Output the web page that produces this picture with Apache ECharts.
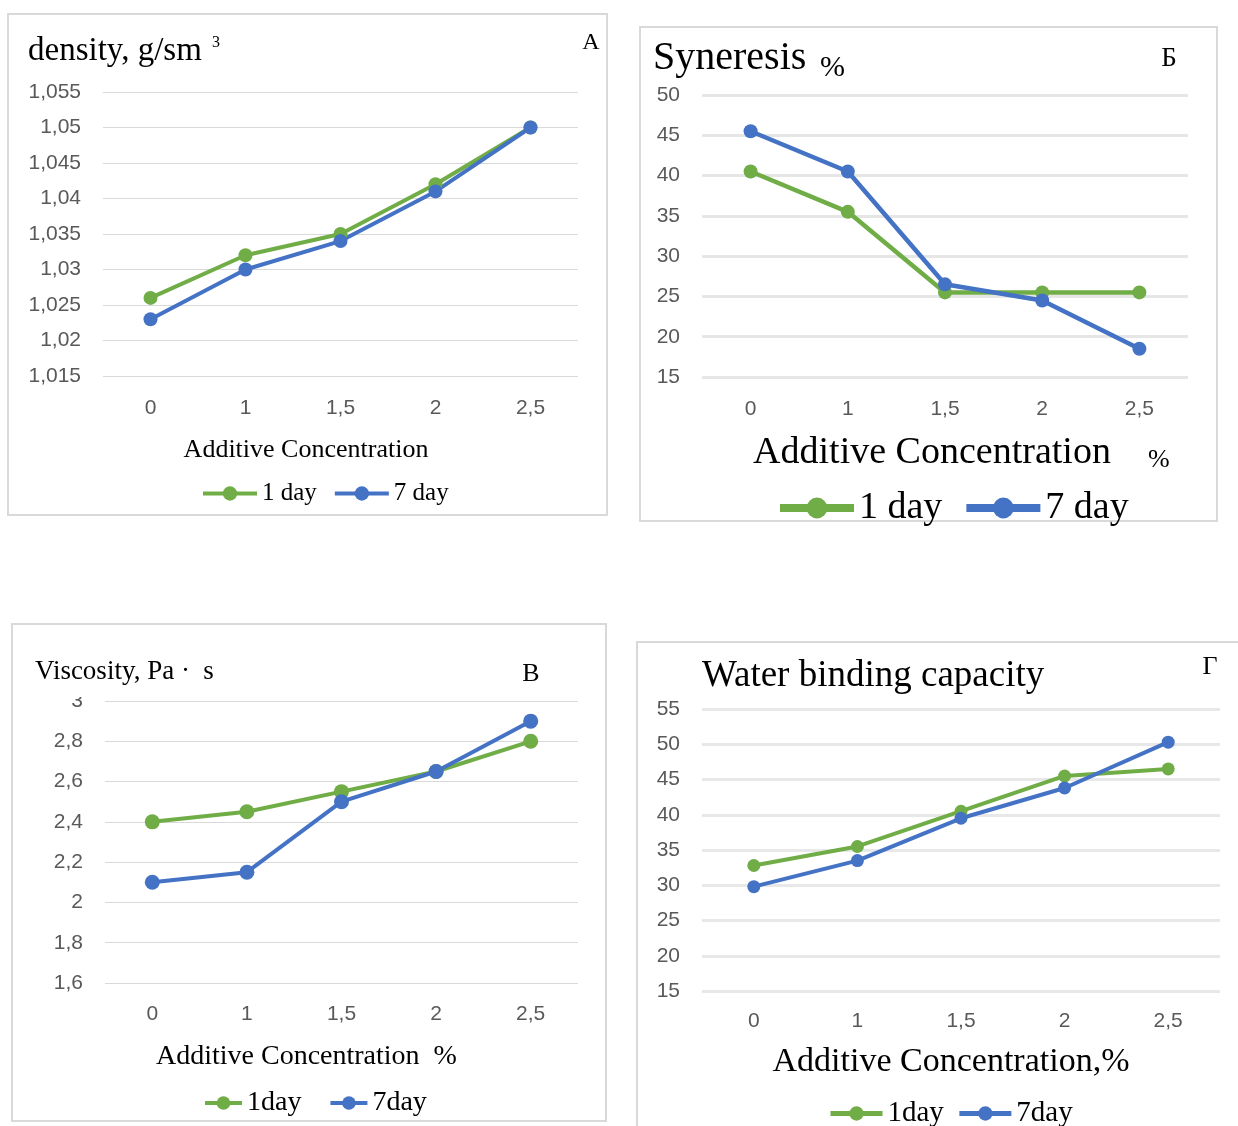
<!DOCTYPE html>
<html>
<head>
<meta charset="utf-8">
<script src="https://cdn.jsdelivr.net/npm/echarts@6/dist/echarts.min.js"></script>
<style>
  html, body { margin: 0; padding: 0; background: #ffffff; }
  #chart { width: 1238px; height: 1126px; }
</style>
</head>
<body>
<div id="chart"></div>
<script>
// Additive concentration, % (shared category axis of all four panels)
const concentrations = ['0', '1', '1,5', '2', '2,5'];

// A - density, g/sm3
const density1Day = [1.026, 1.032, 1.035, 1.042, 1.050];
const density7Day = [1.023, 1.030, 1.034, 1.041, 1.050];

// Б - syneresis, %
const syneresis1Day = [40.5, 35.5, 25.5, 25.5, 25.5];
const syneresis7Day = [45.5, 40.5, 26.5, 24.5, 18.5];

// В - viscosity, Pa·s
const viscosity1Day = [2.40, 2.45, 2.55, 2.65, 2.80];
const viscosity7Day = [2.10, 2.15, 2.50, 2.65, 2.90];

// Г - water binding capacity, %
const water1Day = [32.8, 35.5, 40.5, 45.5, 46.5];
const water7Day = [29.8, 33.5, 39.5, 43.8, 50.3];

const GREEN = '#70ad47';
const BLUE = '#4472c4';
const SERIF = '"Liberation Serif", "Times New Roman", serif';
const SANS = '"Liberation Sans", Arial, sans-serif';
const TICK_GRAY = '#595959';

const commaFmt = (d) => (v) => String(parseFloat(v.toFixed(d))).replace('.', ',');

function xAxisFor(gridIndex, margin) {
  return {
    type: 'category', gridIndex, data: concentrations,
    axisLine: { show: false }, axisTick: { show: false },
    axisLabel: { margin, color: TICK_GRAY, fontFamily: SANS, fontSize: 21 }
  };
}
function yAxisFor(gridIndex, min, max, interval, decimals, gridWidth, gridColor) {
  return {
    type: 'value', gridIndex, min, max, interval,
    axisLine: { show: false }, axisTick: { show: false },
    axisLabel: { margin: 22, color: TICK_GRAY, fontFamily: SANS, fontSize: 21, formatter: commaFmt(decimals) },
    splitLine: { lineStyle: { color: gridColor, width: gridWidth } }
  };
}
function lineSeries(name, idx, data, color, width, size) {
  return {
    type: 'line', name, xAxisIndex: idx, yAxisIndex: idx, data,
    symbol: 'circle', symbolSize: size,
    lineStyle: { color, width }, itemStyle: { color },
    emphasis: { disabled: true }, animation: false
  };
}
function legendFor(names, left, top, itemWidth, itemHeight, gap, lineWidth, fontSize) {
  return {
    data: names, left, top, orient: 'horizontal', padding: 0,
    itemWidth, itemHeight, itemGap: gap,
    lineStyle: { width: lineWidth },
    textStyle: { fontFamily: SERIF, fontSize, color: '#000' },
    selectedMode: false
  };
}
function txt(text, x, y, size, align, color) {
  return {
    type: 'text', x, y, z: 50,
    style: {
      text, font: size + 'px ' + SERIF, fill: color || '#000',
      align: align || 'left', textAlign: align || 'left',
      verticalAlign: 'middle', textVerticalAlign: 'middle'
    }
  };
}
function frame(x, y, w, h) {
  return {
    type: 'rect', z: 1, shape: { x, y, width: w, height: h },
    style: { fill: 'none', stroke: '#d9d9d9', lineWidth: 2 }
  };
}

const chart = echarts.init(document.getElementById('chart'), null, { renderer: 'canvas' });

chart.setOption({
  backgroundColor: '#ffffff',
  animation: false,
  grid: [
    { left: 103, top: 92, width: 475, height: 284 },
    { left: 702, top: 95, width: 486, height: 282 },
    { left: 105, top: 701, width: 473, height: 282 },
    { left: 702, top: 709, width: 518, height: 282 }
  ],
  xAxis: [
    xAxisFor(0, 22),
    xAxisFor(1, 22),
    xAxisFor(2, 21),
    xAxisFor(3, 20)
  ],
  yAxis: [
    yAxisFor(0, 1.015, 1.055, 0.005, 3, 1, '#d9d9d9'),
    yAxisFor(1, 15, 50, 5, 0, 3, '#e6e6e6'),
    yAxisFor(2, 1.6, 3, 0.2, 1, 1, '#d9d9d9'),
    yAxisFor(3, 15, 55, 5, 0, 3, '#e8e8e8')
  ],
  legend: [
    legendFor(['1 day', '7 day'], 201, 481, 54, 18, 16, 4, 25),
    legendFor(['1 day', '7 day'], 776, 489, 74, 26, 20, 8, 38),
    legendFor(['1day', '7day'], 203, 1089, 37, 17, 27, 4, 28),
    legendFor(['1day', '7day'], 828, 1099, 52, 18, 13, 5, 29)
  ],
  series: [
    lineSeries('1 day', 0, density1Day, GREEN, 4, 14),
    lineSeries('7 day', 0, density7Day, BLUE, 4, 14),
    lineSeries('1 day', 1, syneresis1Day, GREEN, 4.5, 14),
    lineSeries('7 day', 1, syneresis7Day, BLUE, 4.5, 14),
    lineSeries('1day', 2, viscosity1Day, GREEN, 4, 15),
    lineSeries('7day', 2, viscosity7Day, BLUE, 4, 15),
    lineSeries('1day', 3, water1Day, GREEN, 4, 13),
    lineSeries('7day', 3, water7Day, BLUE, 4, 13)
  ],
  graphic: [
    // panel frames
    frame(8, 14, 599, 501),
    frame(640, 27, 577, 494),
    frame(12, 624, 594, 497),
    frame(637, 642, 640, 520),
    // the top tick label of panel В is partly hidden under the heading area
    { type: 'rect', z: 40, shape: { x: 60, y: 686, width: 40, height: 11 }, style: { fill: '#ffffff' } },

    // A
    txt('density, g/sm', 28, 51, 33),
    txt('3', 212, 43, 16),
    txt('A', 591, 43, 24, 'center'),
    txt('Additive Concentration', 306, 450, 26, 'center'),

    // Б
    txt('Syneresis', 653, 58, 40),
    txt('%', 820, 68, 30),
    txt('Б', 1169, 59, 27, 'center'),
    txt('Additive Concentration', 932, 453, 38, 'center'),
    txt('%', 1148, 460, 26),

    // В
    txt('Viscosity, Pa \u00b7  s', 35, 672, 27),
    txt('В', 531, 674, 26, 'center'),
    txt('Additive Concentration  %', 156, 1057, 28),

    // Г
    txt('Water binding capacity', 702, 676, 37),
    txt('Г', 1210, 667, 26, 'center'),
    txt('Additive Concentration,%', 951, 1062, 34, 'center')
  ]
});
</script>
</body>
</html>
